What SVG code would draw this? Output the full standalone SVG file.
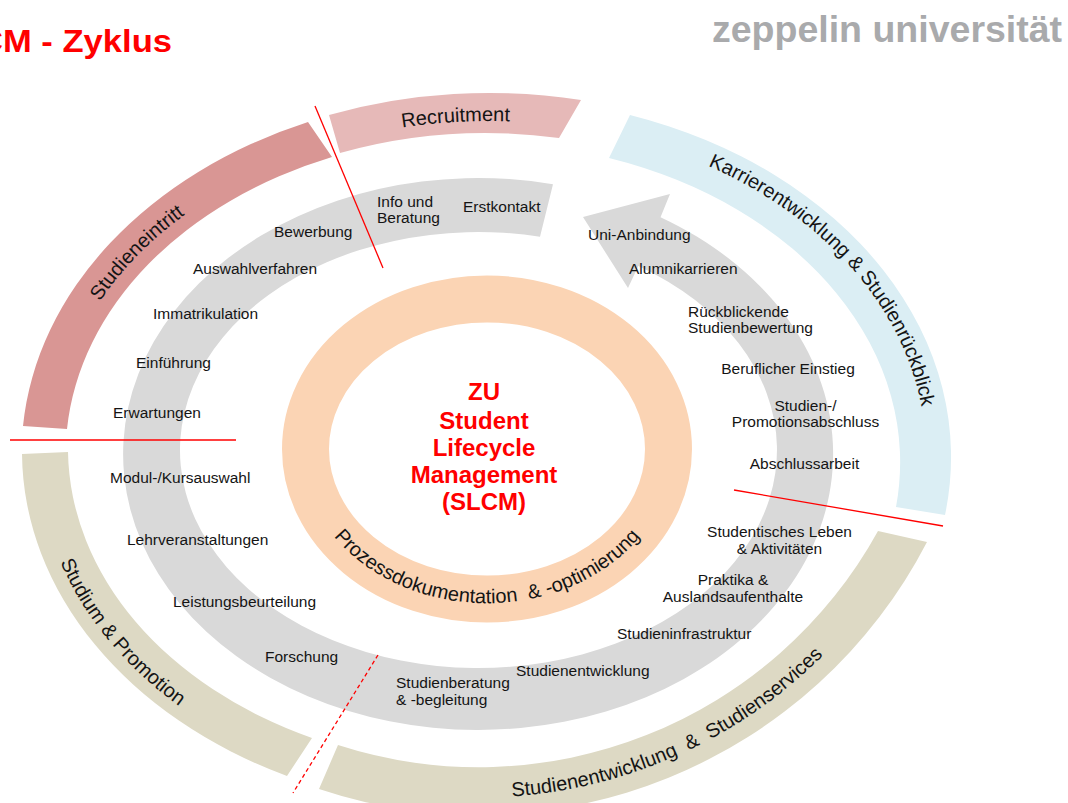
<svg xmlns="http://www.w3.org/2000/svg" width="1068" height="803" viewBox="0 0 1068 803">
  <defs>
    <style>
      .lbl { font-family: "Liberation Sans", Arial, sans-serif; font-size: 15.5px; fill: #141414; }
      .mid { text-anchor: middle; }
      .band-lbl { font-family: "Liberation Sans", Arial, sans-serif; font-size: 20px; fill: #141414; }
      .ctr { font-family: "Liberation Sans", Arial, sans-serif; font-weight: bold; font-size: 24px; fill: #FF0000; text-anchor: middle; }
      .divider { stroke: #FF0000; stroke-width: 1.3; fill: none; }
    </style>
    <!-- baselines for the curved labels -->
    <path id="p-recruit" d="M 240.9 179.9 A 437 333 0 0 1 676.4 153.2"/>
    <path id="p-eintritt" d="M 51.5 437.5 A 437 333 0 0 1 314.9 148.7"/>
    <path id="p-karriere" d="M 652.7 145.2 A 437 333 0 0 1 925.7 465.6"/>
    <path id="p-studium" d="M 38.1 460.1 A 451 347 0 0 0 270.4 757.5"/>
    <path id="p-services" d="M 431.4 795.2 A 487.5 487.5 0 0 0 875.4 593.8"/>
    <path id="p-prozess" d="M 307.3 488.9 A 186 154 0 0 0 666.7 488.9"/>
  </defs>

  <rect width="1068" height="803" fill="#FFFFFF"/>

  <!-- header -->
  <text x="-22" y="52" textLength="194" lengthAdjust="spacingAndGlyphs" font-family="Liberation Sans, Arial, sans-serif" font-weight="bold" font-size="32" fill="#FF0000">CM - Zyklus</text>
  <text x="712" y="42" font-family="Liberation Sans, Arial, sans-serif" font-weight="bold" font-size="37.5" fill="#A9AAAC">zeppelin universität</text>

  <!-- outer phase bands -->
  <g id="band-studieneintritt">
    <path d="M 23 426 A 466 360 0 0 1 308 122 L 332 157 A 422 320 0 0 0 67 429 Z" fill="#D99694"/>
    <text class="band-lbl" font-size="19.5"><textPath href="#p-eintritt" startOffset="50%" text-anchor="middle">Studieneintritt</textPath></text>
  </g>
  <g id="band-recruitment">
    <path d="M 329 115 A 466 360 0 0 1 581 100 L 559 138 A 422 321 0 0 0 340 153 Z" fill="#E6B9B8"/>
    <text class="band-lbl"><textPath href="#p-recruit" startOffset="50%" text-anchor="middle">Recruitment</textPath></text>
  </g>
  <g id="band-karriere">
    <path d="M 630 115 A 466 360 0 0 1 945 515 L 896 507 A 422 320 0 0 0 609 158 Z" fill="#DBEEF4"/>
    <text class="band-lbl"><textPath href="#p-karriere" startOffset="50%" text-anchor="middle">Karrierentwicklung &amp; Studienrückblick</textPath></text>
  </g>
  <g id="band-services">
    <path d="M 927 542 A 505 505 0 0 1 319 789 L 338 745 A 456 456 0 0 0 878 531 Z" fill="#DDD9C4"/>
    <text class="band-lbl"><textPath href="#p-services" startOffset="50%" text-anchor="middle">Studienentwicklung&#160; &amp;&#160; Studienservices</textPath></text>
  </g>
  <g id="band-studium">
    <path d="M 287 776 A 466 360 0 0 1 22 454 L 68 452 A 422 320 0 0 0 312 738 Z" fill="#DDD9C4"/>
    <text class="band-lbl"><textPath href="#p-studium" startOffset="50%" text-anchor="middle">Studium &amp; Promotion</textPath></text>
  </g>

  <!-- process cycle arrow -->
  <g id="cycle-arrow">
    <path d="M 553 184.2 A 355 276 0 1 0 660.5 217.2 L 670 194 L 583 217 L 628 288 L 638.3 265.9 A 298.5 218 0 1 1 540 236.7 Z" fill="#D9D9D9"/>
  </g>

  <!-- core -->
  <g id="core">
    <ellipse cx="487" cy="449" rx="181.5" ry="150" fill="none" stroke="#FBD4B4" stroke-width="47"/>
    <text class="ctr" x="484" y="400">ZU</text>
    <text class="ctr" x="484" y="429">Student</text>
    <text class="ctr" x="484" y="456">Lifecycle</text>
    <text class="ctr" x="484" y="483">Management</text>
    <text class="ctr" x="484" y="510">(SLCM)</text>
    <text font-family="Liberation Sans, Arial, sans-serif" font-size="20" fill="#141414"><textPath href="#p-prozess" startOffset="50%" text-anchor="middle">Prozessdokumentation&#160; &amp; -optimierung</textPath></text>
  </g>

  <!-- phase dividers -->
  <g id="connectors">
    <path class="divider" d="M 315 106 L 383 268"/>
    <path class="divider" d="M 10 440 L 236 440" stroke="#F04848" stroke-width="1.5"/>
    <path class="divider" d="M 734 490 L 943 526"/>
    <path class="divider" d="M 378 655 L 293 793" stroke-dasharray="4 3" stroke-width="1.5"/>
  </g>

  <!-- process steps -->
  <g id="steps">
    <g id="step-info"><text class="lbl" x="377" y="207">Info und</text><text class="lbl" x="377" y="223">Beratung</text></g>
    <g id="step-erstkontakt"><text class="lbl" x="463" y="212">Erstkontakt</text></g>
    <g id="step-bewerbung"><text class="lbl" x="274" y="237">Bewerbung</text></g>
    <g id="step-auswahl"><text class="lbl" x="193" y="274">Auswahlverfahren</text></g>
    <g id="step-immatrikulation"><text class="lbl" x="153" y="319">Immatrikulation</text></g>
    <g id="step-einfuehrung"><text class="lbl" x="136" y="368">Einführung</text></g>
    <g id="step-erwartungen"><text class="lbl" x="113" y="418">Erwartungen</text></g>
    <g id="step-modul"><text class="lbl" x="110" y="483">Modul-/Kursauswahl</text></g>
    <g id="step-lehre"><text class="lbl" x="127" y="545">Lehrveranstaltungen</text></g>
    <g id="step-leistung"><text class="lbl" x="173" y="607">Leistungsbeurteilung</text></g>
    <g id="step-forschung"><text class="lbl" x="265" y="662">Forschung</text></g>
    <g id="step-beratung"><text class="lbl" x="396" y="688">Studienberatung</text><text class="lbl" x="396" y="705">&amp; -begleitung</text></g>
    <g id="step-entwicklung"><text class="lbl" x="516" y="676">Studienentwicklung</text></g>
    <g id="step-infrastruktur"><text class="lbl" x="617" y="639">Studieninfrastruktur</text></g>
    <g id="step-praktika"><text class="lbl mid" x="733" y="585">Praktika &amp;</text><text class="lbl mid" x="733" y="602">Auslandsaufenthalte</text></g>
    <g id="step-leben"><text class="lbl mid" x="779.5" y="537">Studentisches Leben</text><text class="lbl mid" x="779.5" y="554">&amp; Aktivitäten</text></g>
    <g id="step-abschlussarbeit"><text class="lbl mid" x="804.5" y="469">Abschlussarbeit</text></g>
    <g id="step-abschluss"><text class="lbl mid" x="805.5" y="411">Studien-/</text><text class="lbl mid" x="805.5" y="427">Promotionsabschluss</text></g>
    <g id="step-einstieg"><text class="lbl mid" x="788" y="374">Beruflicher Einstieg</text></g>
    <g id="step-rueckblick"><text class="lbl" x="688" y="317">Rückblickende</text><text class="lbl" x="688" y="333">Studienbewertung</text></g>
    <g id="step-alumni"><text class="lbl" x="629" y="274">Alumnikarrieren</text></g>
    <g id="step-anbindung"><text class="lbl" x="588" y="240">Uni-Anbindung</text></g>
  </g>
</svg>
